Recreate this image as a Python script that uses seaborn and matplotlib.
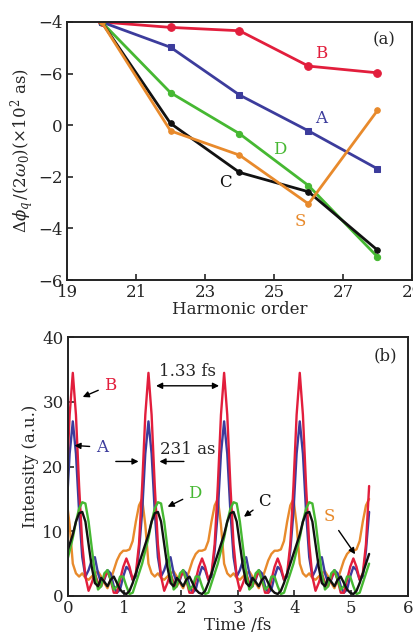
import numpy as np
import matplotlib
matplotlib.use("Agg")
import matplotlib.pyplot as plt
import seaborn as sns

# ---- panel (a): phase difference vs harmonic order ----
harmonic = [20, 22, 24, 26, 28]
phase_B = [4.0, 3.79, 3.66, 2.29, 2.03]
phase_A = [4.0, 3.02, 1.17, -0.22, -1.69]
phase_D = [4.0, 1.26, -0.33, -2.34, -5.10]
phase_C = [4.0, 0.07, -1.83, -2.58, -4.84]
phase_S = [4.0, -0.22, -1.16, -3.05, 0.57]

ytick_pos_a = [4, 2, 0, -2, -4, -6]
ytick_lab_a = ["\u22124", "\u22126", "0", "\u22122", "\u22124", "\u22126"]
xtick_a = [19, 21, 23, 25, 27, 29]

# ---- panel (b): attosecond pulse trains, sampled read-off of the curves ----
t_start, t_end, n_pts = -0.021, 5.319, 97

int_B = [17, 28,
         34.5, 28, 17, 8, 3, 0.8, 2, 3.5, 2, 1.5, 2.8, 3.8, 2.5, 0.5, 0.5, 2.5, 4.5, 5.8, 4.5, 2.5, 3.5, 8, 17, 28,
         34.5, 28, 17, 8, 3, 0.8, 2, 3.5, 2, 1.5, 2.8, 3.8, 2.5, 0.5, 0.5, 2.5, 4.5, 5.8, 4.5, 2.5, 3.5, 8, 17, 28,
         34.5, 28, 17, 8, 3, 0.8, 2, 3.5, 2, 1.5, 2.8, 3.8, 2.5, 0.5, 0.5, 2.5, 4.5, 5.8, 4.5, 2.5, 3.5, 8, 17, 28,
         34.5, 28, 17, 8, 3, 0.8, 2, 3.5, 2, 1.5, 2.8, 3.8, 2.5, 0.5, 0.5, 2.5, 4.5, 5.8, 4.5, 2.5, 3.5, 8, 17]
int_A = [13, 22,
         27, 22, 13, 6, 3, 4, 5.5, 6, 3.5, 2, 2.5, 4, 3.5, 1.5, 0.5, 1, 3, 4.5, 4, 2.5, 3, 7, 13, 22,
         27, 22, 13, 6, 3, 4, 5.5, 6, 3.5, 2, 2.5, 4, 3.5, 1.5, 0.5, 1, 3, 4.5, 4, 2.5, 3, 7, 13, 22,
         27, 22, 13, 6, 3, 4, 5.5, 6, 3.5, 2, 2.5, 4, 3.5, 1.5, 0.5, 1, 3, 4.5, 4, 2.5, 3, 7, 13, 22,
         27, 22, 13, 6, 3, 4, 5.5, 6, 3.5, 2, 2.5, 4, 3.5, 1.5, 0.5, 1, 3, 4.5, 4, 2.5, 3, 7, 13]
int_C = [6.5, 8,
         9.5, 11.5, 12.8, 13, 11.5, 8, 4.5, 2, 1.5, 2.8, 2.2, 1.5, 2.5, 3, 2, 1, 0.5, 0.3, 0.8, 2, 3.5, 5, 6.5, 8,
         9.5, 11.5, 12.8, 13, 11.5, 8, 4.5, 2, 1.5, 2.8, 2.2, 1.5, 2.5, 3, 2, 1, 0.5, 0.3, 0.8, 2, 3.5, 5, 6.5, 8,
         9.5, 11.5, 12.8, 13, 11.5, 8, 4.5, 2, 1.5, 2.8, 2.2, 1.5, 2.5, 3, 2, 1, 0.5, 0.3, 0.8, 2, 3.5, 5, 6.5, 8,
         9.5, 11.5, 12.8, 13, 11.5, 8, 4.5, 2, 1.5, 2.8, 2.2, 1.5, 2.5, 3, 2, 1, 0.5, 0.3, 0.8, 2, 3.5, 5, 6.5]
int_D = [5, 7,
         9, 11.5, 13.5, 14.5, 14.3, 11.5, 7.5, 3.5, 1, 1.5, 3.5, 4, 2.5, 1, 1.5, 3, 3, 1.5, 0.3, 0.5, 2, 3.5, 5, 7,
         9, 11.5, 13.5, 14.5, 14.3, 11.5, 7.5, 3.5, 1, 1.5, 3.5, 4, 2.5, 1, 1.5, 3, 3, 1.5, 0.3, 0.5, 2, 3.5, 5, 7,
         9, 11.5, 13.5, 14.5, 14.3, 11.5, 7.5, 3.5, 1, 1.5, 3.5, 4, 2.5, 1, 1.5, 3, 3, 1.5, 0.3, 0.5, 2, 3.5, 5, 7,
         9, 11.5, 13.5, 14.5, 14.3, 11.5, 7.5, 3.5, 1, 1.5, 3.5, 4, 2.5, 1, 1.5, 3, 3, 1.5, 0.3, 0.5, 2, 3.5, 5]
int_S = [15, 11,
         5, 3.5, 3, 3.5, 2.8, 2.5, 3, 3.5, 3.8, 3, 2, 1.2, 2.5, 4, 5.5, 6.5, 7, 7, 7.2, 8.5, 11.5, 14, 15, 11,
         5, 3.5, 3, 3.5, 2.8, 2.5, 3, 3.5, 3.8, 3, 2, 1.2, 2.5, 4, 5.5, 6.5, 7, 7, 7.2, 8.5, 11.5, 14, 15, 11,
         5, 3.5, 3, 3.5, 2.8, 2.5, 3, 3.5, 3.8, 3, 2, 1.2, 2.5, 4, 5.5, 6.5, 7, 7, 7.2, 8.5, 11.5, 14, 15, 11,
         5, 3.5, 3, 3.5, 2.8, 2.5, 3, 3.5, 3.8, 3, 2, 1.2, 2.5, 4, 5.5, 6.5, 7, 7, 7.2, 8.5, 11.5, 14, 15]

c_red = "#e21e3c"
c_blue = "#3c3c9c"
c_green = "#46b832"
c_black = "#111111"
c_orange = "#e88a2c"

sns.set_style("ticks")
plt.rcParams["font.family"] = ["DejaVu Serif"]
plt.rcParams["mathtext.fontset"] = "dejavuserif"
plt.rcParams["xtick.direction"] = "in"
plt.rcParams["ytick.direction"] = "in"
plt.rcParams["axes.linewidth"] = 1.4
plt.rcParams["axes.edgecolor"] = "#222222"

fig = plt.figure(figsize=(4.14, 6.37), dpi=100)
ax1 = fig.add_axes([0.162, 0.5604, 0.833, 0.4051])
ax2 = fig.add_axes([0.1635, 0.0644, 0.8213, 0.4061])

# panel (a)
series_a = [
    (phase_B, c_red, "o", 5.5),
    (phase_A, c_blue, "s", 5),
    (phase_D, c_green, "o", 4.5),
    (phase_C, c_black, "o", 4),
    (phase_S, c_orange, "o", 4),
]
for vals, col, mk, ms in series_a:
    sns.lineplot(x=harmonic, y=vals, ax=ax1, color=col, marker=mk, markersize=ms,
                 markeredgecolor=col, linewidth=2.0)

ax1.set_xlim(19, 29)
ax1.set_ylim(-6, 4)
ax1.set_xticks(xtick_a)
ax1.set_yticks(ytick_pos_a)
ax1.set_yticklabels(ytick_lab_a)
ax1.tick_params(labelsize=12, length=4, width=1.2, pad=3)
ax1.set_xlabel("Harmonic order", fontsize=12, labelpad=0)
ax1.set_ylabel(r"$\Delta\phi_q\,/(2\omega_0)(\times10^2$ as)", fontsize=12, labelpad=2)

ax1.text(28.2, 3.3, "(a)", fontsize=12, ha="center", va="center")
ax1.text(26.38, 2.79, "B", color=c_red, fontsize=12, ha="center", va="center")
ax1.text(26.38, 0.27, "A", color=c_blue, fontsize=12, ha="center", va="center")
ax1.text(25.17, -0.96, "D", color=c_green, fontsize=12, ha="center", va="center")
ax1.text(23.58, -2.23, "C", color=c_black, fontsize=12, ha="center", va="center")
ax1.text(25.75, -3.74, "S", color=c_orange, fontsize=12, ha="center", va="center")

# panel (b)
t = np.linspace(t_start, t_end, n_pts)
series_b = [
    (int_S, c_orange),
    (int_A, c_blue),
    (int_B, c_red),
    (int_D, c_green),
    (int_C, c_black),
]
for vals, col in series_b:
    sns.lineplot(x=t, y=vals, ax=ax2, color=col, linewidth=1.7)

ax2.set_xlim(0, 6)
ax2.set_ylim(0, 40)
ax2.set_xticks([0, 1, 2, 3, 4, 5, 6])
ax2.set_yticks([0, 10, 20, 30, 40])
ax2.tick_params(labelsize=12, length=4, width=1.2, pad=3)
ax2.set_xlabel("Time /fs", fontsize=12, labelpad=0)
ax2.set_ylabel("Intensity (a.u.)", fontsize=12, labelpad=2)

arrow = dict(arrowstyle="-|>", color="black", lw=1.0, mutation_scale=9)
ax2.text(5.6, 37.2, "(b)", fontsize=12, ha="center", va="center")
ax2.annotate("B", xy=(0.22, 30.6), xytext=(0.75, 32.6), color=c_red, fontsize=12,
             ha="center", va="center", arrowprops=arrow)
ax2.annotate("A", xy=(0.07, 23.3), xytext=(0.6, 23.0), color=c_blue, fontsize=12,
             ha="center", va="center", arrowprops=arrow)
ax2.annotate("D", xy=(1.72, 13.6), xytext=(2.25, 15.9), color=c_green, fontsize=12,
             ha="center", va="center", arrowprops=arrow)
ax2.annotate("C", xy=(3.07, 12.0), xytext=(3.48, 14.6), color=c_black, fontsize=12,
             ha="center", va="center", arrowprops=arrow)
ax2.annotate("S", xy=(5.1, 6.1), xytext=(4.61, 12.3), color=c_orange, fontsize=12,
             ha="center", va="center", arrowprops=arrow)

ax2.text(2.11, 34.7, "1.33 fs", fontsize=12, ha="center", va="center")
ax2.annotate("", xy=(1.51, 32.5), xytext=(2.72, 32.5),
             arrowprops=dict(arrowstyle="<|-|>", color="black", lw=1.0, mutation_scale=9))
ax2.text(2.11, 21.3, "231 as", fontsize=12, ha="center", va="bottom")
ax2.annotate("", xy=(1.30, 20.8), xytext=(0.8, 20.8), arrowprops=arrow)
ax2.annotate("", xy=(1.57, 20.8), xytext=(2.1, 20.8), arrowprops=arrow)

fig.savefig("out.png", dpi=100)
